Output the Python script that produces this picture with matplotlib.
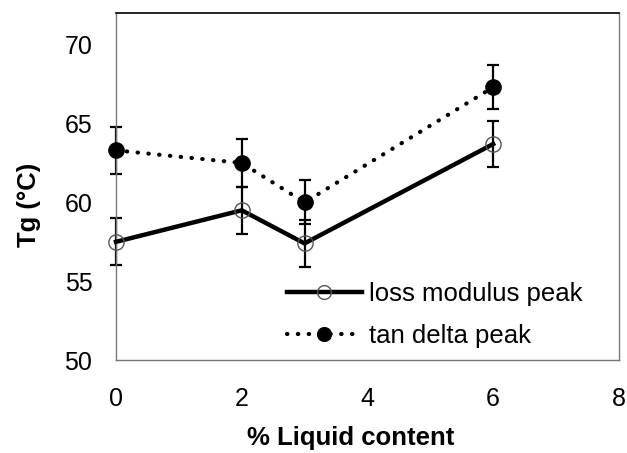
import matplotlib
matplotlib.use('Agg')
import matplotlib.pyplot as plt

plt.rcParams['font.family'] = ['Liberation Sans', 'DejaVu Sans']

# Data
liquid = [0, 2, 3, 6]
loss_peak = [57.5, 59.5, 57.4, 63.7]
loss_err = [1.5, 1.5, 1.5, 1.45]
tan_peak = [63.3, 62.5, 60.0, 67.3]
tan_err = [1.5, 1.5, 1.4, 1.4]

fig = plt.figure(figsize=(6.27, 4.53), dpi=100)
ax = fig.add_axes([0.185, 0.205, 0.802, 0.766])

# error bars first, markers on top
for y, e in [(loss_peak, loss_err), (tan_peak, tan_err)]:
    eb = ax.errorbar(liquid, y, yerr=e, fmt='none', ecolor='black',
                     elinewidth=1.6, capsize=4.3, capthick=1.6, zorder=2)
    for art in eb.lines[1] + eb.lines[2]:
        art.set_clip_on(False)

ax.plot(liquid, loss_peak, color='black', lw=3.2, marker='o', ms=11,
        mfc='none', mec='#555555', mew=1.0, label='loss modulus peak',
        zorder=3, clip_on=False)
ax.plot(liquid, tan_peak, color='black', lw=3.0, linestyle=(0, (0.1, 2.5)),
        dash_capstyle='round', marker='o', ms=11, mfc='black', mec='black',
        label='tan delta peak', zorder=4, clip_on=False)

ax.set_xlim(0, 8)
ax.set_ylim(50, 72)
ax.set_xticks([0, 2, 4, 6, 8])
ax.set_yticks([50, 55, 60, 65, 70])
ax.tick_params(axis='both', length=0, labelsize=18)
ax.tick_params(axis='x', pad=19)
ax.tick_params(axis='y', pad=17)

for side in ['left', 'right', 'bottom']:
    ax.spines[side].set_color('#777777')
    ax.spines[side].set_linewidth(1.0)
ax.spines['top'].set_color('black')
ax.spines['top'].set_linewidth(1.2)

ax.set_xlabel('% Liquid content', fontsize=18.5, fontweight='bold')
ax.xaxis.set_label_coords(0.467, -0.19)
ax.set_ylabel('Tg (°C)', fontsize=18.5, fontweight='bold')
ax.yaxis.set_label_coords(-0.15, 0.447)

ax.legend(loc='center left', bbox_to_anchor=(0.32, 0.13), frameon=False,
          borderaxespad=0, fontsize=18.5, handlelength=2.9, handletextpad=0.28,
          labelspacing=0.72, markerscale=0.9)

plt.savefig('out.png', dpi=100)
